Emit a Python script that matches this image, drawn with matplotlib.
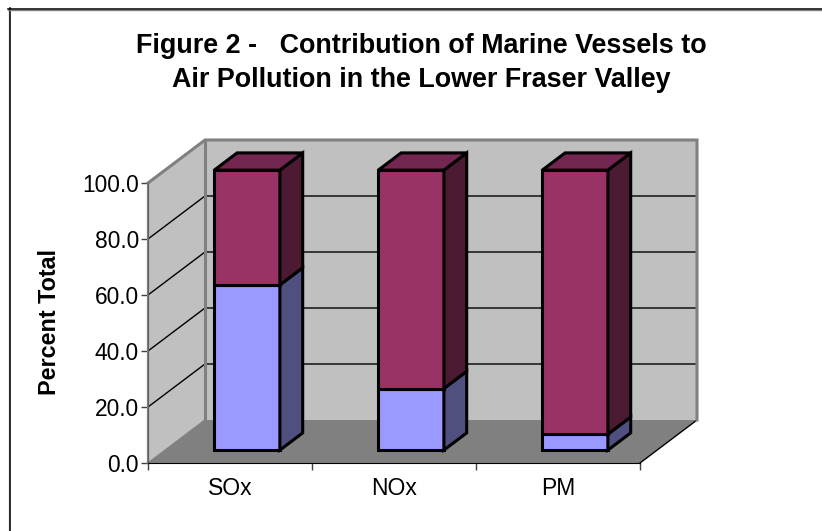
import matplotlib
matplotlib.use('Agg')
import matplotlib.pyplot as plt
from matplotlib.lines import Line2D
from matplotlib.patches import Polygon

# values
categories = ['SOx', 'NOx', 'PM']
marine = [59.0, 22.0, 5.7]
other = [41.0, 78.0, 94.3]
y_ticks = [0, 20, 40, 60, 80, 100]

W, H = 822, 531
fig = plt.figure(figsize=(W / 100, H / 100), dpi=100)
plt.rcParams['font.family'] = ['Liberation Sans', 'DejaVu Sans']

# axes is the front plane of the 3D box
ax = fig.add_axes([148 / W, 1 - 463 / H, 492 / W, 280 / H])
ax.set_xlim(0, 3)
ax.set_ylim(0, 100)
ax.patch.set_visible(False)

# depth offset of the box, in data units
DX = 57 / 164
DY = 43 / 2.8


def pt(x, y, d=0.0):
    return (x + DX * d, y + DY * d)


def poly(points, fc, ec='none', lw=0, z=1):
    ax.add_patch(Polygon(points, closed=True, facecolor=fc, edgecolor=ec, linewidth=lw,
                         zorder=z, clip_on=False, joinstyle='miter'))


# walls and floor
poly([pt(0, 0), pt(0, 100), pt(0, 100, 1), pt(0, 0, 1)], '#c0c0c0', z=1)
poly([pt(0, 0, 1), pt(0, 100, 1), pt(3, 100, 1), pt(3, 0, 1)], '#c0c0c0', z=1)
poly([pt(0, 0), pt(3, 0), pt(3, 0, 1), pt(0, 0, 1)], '#808080', z=1)

# gridlines
for v in y_ticks[1:-1]:
    ax.plot(*zip(pt(0, v), pt(0, v, 1), pt(3, v, 1)), color='black', lw=1, zorder=2, clip_on=False)
ax.plot(*zip(pt(0, 0), pt(0, 0, 1)), color='#808080', lw=1, zorder=2, clip_on=False)
ax.plot(*zip(pt(3, 0), pt(3, 0, 1)), color='black', lw=1, zorder=2, clip_on=False)

# wall outlines
ax.plot(*zip(pt(0, 100), pt(0, 100, 1), pt(3, 100, 1), pt(3, 0, 1)), color='#808080', lw=2.2,
        zorder=2, clip_on=False, solid_joinstyle='miter')
ax.plot(*zip(pt(0, 0, 1), pt(0, 100, 1)), color='#808080', lw=2.2, zorder=2, clip_on=False)
ax.plot(*zip(pt(0, 0), pt(0, 100)), color='#808080', lw=1.6, zorder=2, clip_on=False)

# bars, 0.3-0.7 of the depth
D0, D1 = 0.3, 0.7
BW = 0.4


def bar3d(cx, y0, y1, front, side, top=None, z=5):
    x0, x1 = cx - BW / 2, cx + BW / 2
    kw = dict(ec='black', lw=2.2, z=z)
    poly([pt(x0, y0, D0), pt(x1, y0, D0), pt(x1, y1, D0), pt(x0, y1, D0)], front, **kw)
    poly([pt(x1, y0, D0), pt(x1, y0, D1), pt(x1, y1, D1), pt(x1, y1, D0)], side, **kw)
    if top:
        poly([pt(x0, y1, D0), pt(x1, y1, D0), pt(x1, y1, D1), pt(x0, y1, D1)], top, **kw)


for i in range(len(categories)):
    bar3d(i + 0.5, 0, marine[i], '#9999ff', '#4f4f80', z=5)
    bar3d(i + 0.5, marine[i], marine[i] + other[i], '#993366', '#4d1a33', '#732650', z=6)

# axes, ticks
for s in ['top', 'right']:
    ax.spines[s].set_visible(False)
ax.spines['left'].set_color('#606060')
ax.spines['left'].set_zorder(3)
ax.spines['bottom'].set_color('black')
ax.spines['bottom'].set_zorder(3)
ax.set_yticks(y_ticks)
ax.set_yticklabels(['%.1f' % v for v in y_ticks])
ax.set_xticks([0, 1, 2, 3])
ax.set_xticklabels([])
ax.set_xticks([0.5, 1.5, 2.5], categories, minor=True)
ax.tick_params(axis='x', which='major', length=5, width=1, color='#404040')
ax.tick_params(axis='x', which='minor', length=0, labelsize=16.5, pad=10)
ax.tick_params(axis='y', length=5, width=1, color='#404040', labelsize=16.4, pad=1.5)

fig.text(50 / W, 1 - 322 / H, 'Percent Total', rotation=90, ha='center', va='center',
         fontsize=16.8, fontweight='bold')
fig.text(421 / W, 1 - 63 / H, 'Figure 2 -   Contribution of Marine Vessels to\nAir Pollution in the Lower Fraser Valley',
         ha='center', va='center', fontsize=19.4, fontweight='bold', linespacing=1.44)

# chart frame: only top and left edges fall inside the picture
for xs, ys, col, lw in [((8.5, 8.5), (8, 531), '#b0b0b0', 1.0), ((9.5, 9.5), (8, 531), 'black', 1.1),
                        ((8, 822), (9.5, 9.5), '#808080', 1.0), ((8, 822), (8.5, 8.5), 'black', 1.1)]:
    fig.add_artist(Line2D([x / W for x in xs], [1 - y / H for y in ys], color=col, lw=lw))

fig.savefig('out.png', dpi=100)
